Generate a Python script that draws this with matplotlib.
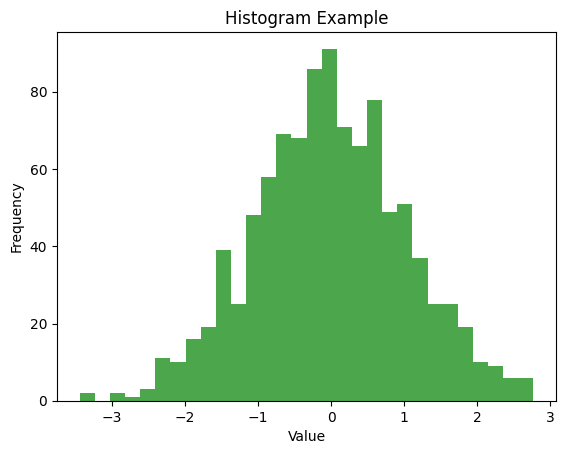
import numpy as np
import matplotlib
matplotlib.use("Agg")
import matplotlib.pyplot as plt

# histogram range and counts (30 bins)
x_min = -3.44
x_max = 2.77
counts = [2, 0, 2, 1, 3, 11, 10, 16, 19, 39,
          25, 48, 58, 69, 68, 86, 91, 71, 66, 78,
          49, 51, 37, 25, 25, 19, 10, 9, 6, 6]

edges = np.linspace(x_min, x_max, len(counts) + 1)

fig = plt.figure(figsize=(5.64, 4.55), dpi=100)
ax = fig.add_axes([0.101, 0.119, 0.885, 0.811])
ax.hist(edges[:-1], bins=edges, weights=counts, color="green", alpha=0.7)
ax.set_title("Histogram Example")
ax.set_xlabel("Value")
ax.set_ylabel("Frequency")
fig.savefig("out.png", dpi=100)
